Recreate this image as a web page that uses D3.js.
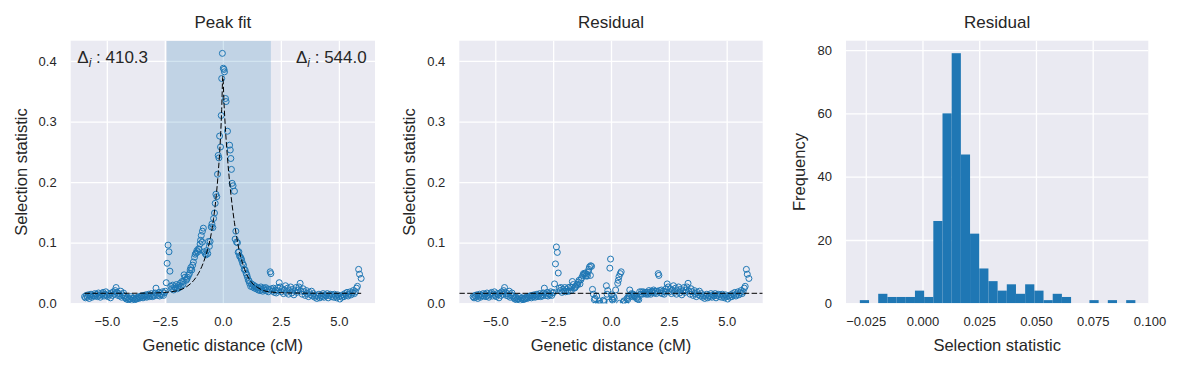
<!DOCTYPE html>
<html><head><meta charset="utf-8">
<script src="https://cdn.jsdelivr.net/npm/d3@7"></script>
<style>
body{margin:0;background:#fff;}
svg{display:block;}
text{font-family:Arial,"Liberation Sans",sans-serif;fill:#262626;}
</style>
</head><body>
<svg id="chart" width="1182" height="368"></svg>
<script>
// ---------------- data ----------------
const distance = [
-5.96,-5.92,-5.88,-5.84,-5.80,-5.76,-5.72,-5.68,-5.64,-5.60,-5.56,-5.52,
-5.48,-5.44,-5.40,-5.36,-5.32,-5.28,-5.24,-5.20,-5.16,-5.12,-5.08,-5.04,-5.00,
-4.96,-4.92,-4.88,-4.84,-4.80,-4.76,-4.72,-4.68,-4.64,-4.60,
-4.56,-4.52,-4.48,-4.44,-4.40,-4.36,-4.32,-4.28,-4.24,-4.20,
-4.16,-4.12,-4.08,-4.04,-4.00,-3.96,-3.92,-3.88,-3.84,-3.80,-3.76,-3.72,-3.68,-3.64,-3.60,-3.56,-3.52,
-3.48,-3.44,-3.40,-3.36,-3.32,-3.28,-3.24,-3.20,-3.16,-3.12,-3.08,-3.04,-3.00,
-2.96,-2.92,-2.88,-2.84,-2.80,-2.76,-2.72,-2.68,-2.64,-2.60,-2.56,-2.52,
-2.48,-2.44,-2.40,-2.36,-2.32,-2.28,-2.24,-2.20,-2.16,-2.12,
-2.08,-2.04,-2.00,-1.96,-1.92,-1.88,-1.84,-1.80,-1.76,-1.72,
-1.70,-1.67,-1.63,-1.58,-1.55,-1.52,-1.48,-1.44,-1.41,-1.38,
-1.34,-1.30,-1.27,-1.22,-1.19,-1.15,-1.12,-1.08,-1.05,-1.02,
-0.98,-0.96,-0.93,-0.89,-0.88,-0.84,-0.80,-0.76,-0.72,-0.69,
-0.65,-0.62,-0.58,-0.55,-0.50,-0.47,-0.43,-0.40,-0.36,-0.33,
-0.30,-0.26,-0.23,-0.20,-0.17,-0.14,-0.10,-0.07,-0.05,-0.02,
0.02,0.05,0.07,0.115,0.14,0.20,0.29,0.32,0.345,0.37,
0.40,0.44,0.50,0.53,0.56,0.59,0.63,0.66,0.69,0.72,
0.76,0.79,0.81,0.85,0.89,0.92,0.96,1.00,1.03,1.06,
1.10,1.13,1.15,1.20,1.24,1.28,1.32,1.36,1.40,1.44,
1.48,1.52,1.56,1.60,1.64,1.68,1.72,1.76,1.80,1.84,
1.88,1.92,1.96,2.00,2.04,2.07,2.10,2.14,2.18,2.22,
2.26,2.30,2.34,2.38,2.43,
2.47,2.52,2.56,2.61,2.65,2.70,2.74,2.79,2.83,2.88,
2.92,2.97,3.01,3.06,3.10,3.15,3.19,3.24,3.28,3.33,
3.37,3.42,3.46,3.51,3.55,3.60,3.64,3.69,3.73,3.78,
3.82,3.87,3.91,3.96,4.00,4.05,4.09,4.14,4.18,4.23,
4.27,4.32,4.36,4.41,4.45,4.50,4.54,4.59,4.63,4.68,
4.72,4.77,4.81,4.86,4.90,4.95,4.99,5.04,5.08,5.13,
5.17,5.22,5.26,5.31,5.35,5.40,5.44,5.49,5.53,5.58,
5.62,5.67,5.71,5.76,5.80,5.85,5.89,5.96
];

const selection = [
0.011,0.009,0.013,0.010,0.014,0.008,0.012,0.015,0.010,0.013,0.012,0.016,
0.012,0.015,0.011,0.017,0.013,0.010,0.014,0.016,0.018,0.012,0.015,0.019,0.013,
0.011,0.016,0.014,0.009,0.017,0.013,0.019,0.015,0.021,0.026,
0.018,0.013,0.016,0.012,0.020,0.010,0.014,0.017,0.012,0.009,
0.007,0.010,0.006,0.008,0.007,0.011,0.005,0.008,0.009,0.006,0.008,0.007,0.010,0.008,0.011,0.009,0.012,
0.012,0.009,0.013,0.011,0.014,0.010,0.012,0.015,0.011,0.013,0.016,0.011,0.014,
0.012,0.017,0.025,0.015,0.013,0.018,0.012,0.016,0.014,0.019,0.013,0.017,
0.020,0.034,0.066,0.096,0.085,0.053,0.028,0.024,0.030,0.022,
0.027,0.025,0.031,0.024,0.029,0.026,0.033,0.028,0.036,0.031,
0.036,0.047,0.043,0.038,0.040,0.043,0.046,0.049,0.055,0.059,
0.055,0.063,0.068,0.076,0.081,0.083,0.087,0.085,0.090,0.089,
0.098,0.104,0.112,0.101,0.119,0.124,0.085,0.082,0.080,0.087,
0.082,0.102,0.094,0.102,0.126,0.131,0.125,0.140,0.149,0.165,
0.180,0.176,0.213,0.244,0.240,0.276,0.258,0.310,0.371,0.4125,
0.388,0.386,0.382,0.338,0.333,0.284,0.261,0.253,0.239,0.221,
0.198,0.194,0.185,0.106,0.119,0.101,0.100,0.084,0.085,0.078,
0.076,0.074,0.071,0.066,0.063,0.056,0.055,0.050,0.047,0.043,
0.038,0.037,0.033,0.028,0.032,0.027,0.030,0.025,0.028,0.024,
0.026,0.022,0.025,0.021,0.027,0.023,0.020,0.025,0.022,0.026,
0.021,0.024,0.019,0.023,0.052,0.049,0.024,0.020,0.025,0.018,
0.022,0.017,0.021,0.026,0.034,
0.027,0.019,0.024,0.016,0.022,0.029,0.018,0.025,0.015,0.021,
0.027,0.017,0.023,0.014,0.020,0.026,0.018,0.022,0.027,0.033,
0.020,0.015,0.024,0.019,0.013,0.021,0.016,0.011,0.018,0.014,
0.020,0.012,0.016,0.010,0.013,0.008,0.012,0.015,0.009,0.013,
0.011,0.016,0.010,0.014,0.012,0.016,0.009,0.013,0.015,0.011,
0.014,0.010,0.015,0.012,0.009,0.014,0.011,0.007,0.012,0.010,
0.014,0.011,0.016,0.013,0.018,0.012,0.015,0.019,0.014,0.017,
0.021,0.016,0.019,0.025,0.028,0.056,0.048,0.041
];

const residual = [
0.011,0.009,0.013,0.010,0.014,0.008,0.012,0.015,0.010,0.013,0.012,0.016,
0.012,0.015,0.011,0.017,0.013,0.010,0.014,0.016,0.018,0.012,0.015,0.019,0.013,
0.011,0.016,0.014,0.009,0.017,0.013,0.019,0.015,0.021,0.026,
0.018,0.013,0.016,0.012,0.020,0.010,0.014,0.017,0.012,0.009,
0.007,0.010,0.006,0.008,0.007,0.011,0.005,0.008,0.009,0.006,0.008,0.007,0.010,0.008,0.011,0.009,0.012,
0.012,0.009,0.013,0.011,0.014,0.010,0.012,0.015,0.011,0.013,0.016,0.011,0.014,
0.012,0.017,0.025,0.015,0.013,0.018,0.012,0.016,0.014,0.019,0.013,0.017,
0.018,0.032,0.065,0.093,0.084,0.050,0.025,0.021,0.026,0.018,
0.023,0.020,0.026,0.019,0.023,0.020,0.026,0.020,0.027,0.021,
0.026,0.036,0.031,0.025,0.026,0.028,0.030,0.031,0.035,0.038,
0.032,0.039,0.042,0.046,0.049,0.048,0.050,0.045,0.048,0.045,
0.052,0.056,0.060,0.046,0.062,0.061,0.023,0.015,0.006,0.008,
-0.002,0.012,-0.004,-0.002,0.004,0.000,-0.012,-0.009,-0.007,0.005,
0.003,-0.016,-0.005,0.029,0.015,0.021,-0.021,0.002,0.058,0.073,
0.014,0.007,0.005,0.011,0.008,0.022,0.033,0.038,0.044,0.000,
0.049,0.052,-0.008,0.002,0.004,-0.006,0.001,-0.003,0.008,0.006,
0.012,0.012,0.022,0.014,0.016,0.011,0.015,0.012,0.013,0.011,
0.008,0.010,0.007,0.006,0.019,0.015,0.019,0.015,0.019,0.016,
0.018,0.015,0.018,0.015,0.021,0.018,0.015,0.020,0.018,0.022,
0.017,0.020,0.016,0.020,0.049,0.046,0.021,0.017,0.022,0.016,
0.020,0.015,0.019,0.024,0.032,
0.027,0.019,0.024,0.016,0.022,0.029,0.018,0.025,0.015,0.021,
0.027,0.017,0.023,0.014,0.020,0.026,0.018,0.022,0.027,0.033,
0.020,0.015,0.024,0.019,0.013,0.021,0.016,0.011,0.018,0.014,
0.020,0.012,0.016,0.010,0.013,0.008,0.012,0.015,0.009,0.013,
0.011,0.016,0.010,0.014,0.012,0.016,0.009,0.013,0.015,0.011,
0.014,0.010,0.015,0.012,0.009,0.014,0.011,0.007,0.012,0.010,
0.014,0.011,0.016,0.013,0.018,0.012,0.015,0.019,0.014,0.017,
0.021,0.016,0.019,0.025,0.028,0.056,0.048,0.041
];

// fitted peak curve
const fitDistance  = [-5.96,-4.0,-3.0,-2.5,-2.0,-1.75,-1.5,-1.25,-1.0,-0.85,-0.7,-0.6,-0.5,-0.4,-0.3,-0.2,-0.1,-0.05,0,0.05,0.1,0.2,0.3,0.4,0.5,0.6,0.7,0.85,1.0,1.25,1.5,1.75,2.0,2.5,3.0,4.0,5.96];
const fitSelection = [0.0165,0.0166,0.0170,0.0180,0.0205,0.0235,0.029,0.038,0.053,0.066,0.083,0.097,0.115,0.140,0.172,0.215,0.275,0.320,0.375,0.330,0.295,0.240,0.197,0.162,0.133,0.108,0.088,0.066,0.050,0.034,0.026,0.021,0.019,0.0175,0.017,0.0166,0.0165];
const baselineLevel = 0.0165;
const peakBounds = [-2.42, 2.07];
const deltaLabels = ["410.3", "544.0"];

// histogram of residual selection statistic
const histCounts = [1,0,3,2,2,2,4,2,26,60,79,47,22,11,7,4,6,3,6,4,1,3,2,0,0,1,0,1,0,1];
const histRange = [-0.0276, 0.0938];

const distTicks = [-5, -2.5, 0, 2.5, 5];
const selTicks = [0, 0.1, 0.2, 0.3, 0.4];
const histXTicks = [-0.025, 0, 0.025, 0.05, 0.075, 0.1];
const freqTicks = [0, 20, 40, 60, 80];
const titles = ["Peak fit", "Residual", "Residual"];

// ---------------- layout ----------------
const svg = d3.select("#chart");
const T = 40.7, B = 303.3;
const panels = [{l:70.7, r:375.0}, {l:459.3, r:762.7}, {l:846.0, r:1148.3}];
const C0 = "#1f77b4";
const TICK_FS = 13, LABEL_FS = 16.5, TITLE_FS = 17;
const DASH = "5.5,2.4";

const xDist = d3.scaleLinear().domain([-6.556, 6.556]);
const ySel = d3.scaleLinear().domain([0, 0.4334]).range([B, T]);

function frame(idx, x, y, xt, yt, xf, yf) {
  const p = panels[idx];
  const g = svg.append("g");
  g.append("rect").attr("x", p.l).attr("y", T).attr("width", p.r - p.l).attr("height", B - T).attr("fill", "#eaeaf2");
  const gx = g.append("g").attr("transform", `translate(0,${B})`)
    .call(d3.axisBottom(x).tickValues(xt).tickSize(-(B - T)).tickFormat(""));
  gx.select(".domain").remove();
  gx.selectAll("line").attr("stroke", "#fff").attr("stroke-width", 1.3);
  const gy = g.append("g").attr("transform", `translate(${p.l},0)`)
    .call(d3.axisLeft(y).tickValues(yt).tickSize(-(p.r - p.l)).tickFormat(""));
  gy.select(".domain").remove();
  gy.selectAll("line").attr("stroke", "#fff").attr("stroke-width", 1.3);
  const lx = g.append("g").attr("transform", `translate(0,${B})`)
    .call(d3.axisBottom(x).tickValues(xt).tickSize(0).tickPadding(13.4).tickFormat(xf));
  lx.select(".domain").remove();
  lx.attr("font-family", null).attr("font-size", null);
  lx.selectAll("text").attr("font-size", TICK_FS).attr("fill", "#262626");
  const ly = g.append("g").attr("transform", `translate(${p.l},0)`)
    .call(d3.axisLeft(y).tickValues(yt).tickSize(0).tickPadding(14).tickFormat(yf));
  ly.select(".domain").remove();
  ly.attr("font-family", null).attr("font-size", null);
  ly.selectAll("text").attr("font-size", TICK_FS).attr("fill", "#262626");
  svg.append("text").attr("x", (p.l + p.r) / 2).attr("y", 28.3).attr("text-anchor", "middle")
    .attr("font-size", TITLE_FS).text(titles[idx]);
  svg.append("clipPath").attr("id", "clip" + idx).append("rect")
    .attr("x", p.l).attr("y", T).attr("width", p.r - p.l).attr("height", B - T);
  return g;
}

function xlabel(idx, txt) {
  const p = panels[idx];
  svg.append("text").attr("x", (p.l + p.r) / 2).attr("y", 350.5).attr("text-anchor", "middle")
    .attr("font-size", LABEL_FS).text(txt);
}
function ylabel(xpos, txt) {
  svg.append("text").attr("transform", `translate(${xpos},${(T + B) / 2}) rotate(-90)`)
    .attr("text-anchor", "middle").attr("font-size", LABEL_FS).text(txt);
}

const f1 = d3.format(".1f");

// ---------------- panel 1: peak fit ----------------
{
  const p = panels[0];
  const x = xDist.copy().range([p.l, p.r]);
  frame(0, x, ySel, distTicks, selTicks, f1, f1);
  const data = distance.map((d, i) => ({d, s: selection[i]}));
  const inner = svg.append("g").attr("clip-path", "url(#clip0)");
  inner.append("rect").attr("x", x(peakBounds[0])).attr("y", T)
    .attr("width", x(peakBounds[1]) - x(peakBounds[0])).attr("height", B - T)
    .attr("fill", C0).attr("fill-opacity", 0.2);
  inner.selectAll("circle").data(data).join("circle")
    .attr("cx", d => x(d.d)).attr("cy", d => ySel(d.s)).attr("r", 3)
    .attr("fill", "none").attr("stroke", C0).attr("stroke-width", 1);
  const fit = fitDistance.map((d, i) => [d, fitSelection[i]]);
  inner.append("path").datum(fit)
    .attr("d", d3.line().x(d => x(d[0])).y(d => ySel(d[1])).curve(d3.curveMonotoneX))
    .attr("fill", "none").attr("stroke", "#000").attr("stroke-width", 1)
    .attr("stroke-dasharray", DASH);
  const a1 = svg.append("text").attr("x", p.l + 6.6).attr("y", 62.7).attr("font-size", TITLE_FS);
  a1.append("tspan").text("Δ");
  a1.append("tspan").attr("dy", 4).attr("font-size", 12).attr("font-style", "italic").text("i");
  a1.append("tspan").attr("dy", -4).text(" : " + deltaLabels[0]);
  const a2 = svg.append("text").attr("x", p.r - 8.3).attr("y", 62.7).attr("font-size", TITLE_FS).attr("text-anchor", "end");
  a2.append("tspan").text("Δ");
  a2.append("tspan").attr("dy", 4).attr("font-size", 12).attr("font-style", "italic").text("i");
  a2.append("tspan").attr("dy", -4).text(" : " + deltaLabels[1]);
  xlabel(0, "Genetic distance (cM)");
  ylabel(26.5, "Selection statistic");
}

// ---------------- panel 2: residual ----------------
{
  const p = panels[1];
  const x = xDist.copy().range([p.l, p.r]);
  frame(1, x, ySel, distTicks, selTicks, f1, f1);
  const data = distance.map((d, i) => ({d, s: residual[i]}));
  const inner = svg.append("g").attr("clip-path", "url(#clip1)");
  inner.selectAll("circle").data(data).join("circle")
    .attr("cx", d => x(d.d)).attr("cy", d => ySel(d.s)).attr("r", 3)
    .attr("fill", "none").attr("stroke", C0).attr("stroke-width", 1);
  inner.append("line").attr("x1", p.l).attr("x2", p.r)
    .attr("y1", ySel(baselineLevel)).attr("y2", ySel(baselineLevel))
    .attr("stroke", "#000").attr("stroke-width", 1).attr("stroke-dasharray", DASH);
  xlabel(1, "Genetic distance (cM)");
  ylabel(415, "Selection statistic");
}

// ---------------- panel 3: histogram ----------------
{
  const p = panels[2];
  const x = d3.scaleLinear().domain([-0.0337, 0.0995]).range([p.l, p.r]);
  const y = d3.scaleLinear().domain([0, 82.95]).range([B, T]);
  frame(2, x, y, histXTicks, freqTicks, d3.format(".3f"), d3.format("d"));
  const bw = (histRange[1] - histRange[0]) / histCounts.length;
  const bins = histCounts.map((c, i) => ({x0: histRange[0] + i * bw, x1: histRange[0] + (i + 1) * bw, c}));
  svg.append("g").attr("clip-path", "url(#clip2)").selectAll("rect").data(bins).join("rect")
    .attr("x", d => x(d.x0)).attr("width", d => x(d.x1) - x(d.x0))
    .attr("y", d => y(d.c)).attr("height", d => y(0) - y(d.c))
    .attr("fill", C0);
  xlabel(2, "Selection statistic");
  ylabel(805, "Frequency");
}
</script>
</body></html>
